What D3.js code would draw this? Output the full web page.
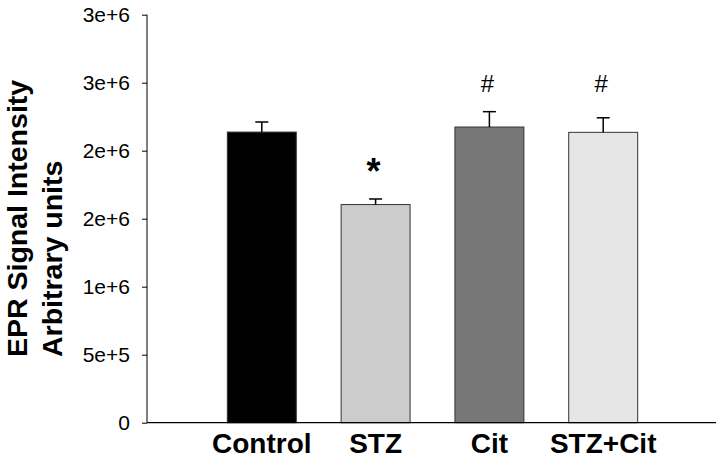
<!DOCTYPE html>
<html>
<head>
<meta charset="utf-8">
<script src="https://cdn.jsdelivr.net/npm/d3@7"></script>
<style>
  html, body { margin: 0; padding: 0; background: #fff; }
  svg { display: block; }
</style>
</head>
<body>
<script>
const categories = ["Control", "STZ", "Cit", "STZ+Cit"];
const means = [2137000, 1604000, 2174000, 2135000];
const errors = [74000, 41000, 113000, 107000];
const markers = ["", "*", "#", "#"];
const barColors = ["#000000", "#cccccc", "#777777", "#e6e6e6"];
const tickValues = [0, 500000, 1000000, 1500000, 2000000, 2500000, 3000000];
const tickLabels = ["0", "5e+5", "1e+6", "2e+6", "2e+6", "3e+6", "3e+6"];
const yLabelLines = ["EPR Signal Intensity", "Arbitrary units"];

const W = 723, H = 471;
const svg = d3.select("body").append("svg").attr("width", W).attr("height", H);
const font = "'Liberation Sans', Arial, sans-serif";

const x = d3.scaleBand().domain(categories).range([148, 717]).paddingInner(0.394).paddingOuter(0.697);
const y = d3.scaleLinear().domain([0, 3000000]).range([422.7, 14.7]);

// bars
svg.append("g").selectAll("rect").data(categories).join("rect")
  .attr("x", d => x(d))
  .attr("y", (d, i) => y(means[i]))
  .attr("width", x.bandwidth())
  .attr("height", (d, i) => y(0) - y(means[i]))
  .attr("fill", (d, i) => barColors[i])
  .attr("stroke", "#333")
  .attr("stroke-width", 1);

// error bars
const eb = svg.append("g").attr("stroke", "#000").attr("stroke-width", 1.5);
categories.forEach((c, i) => {
  const cx = x(c) + x.bandwidth() / 2;
  eb.append("line").attr("x1", cx).attr("x2", cx).attr("y1", y(means[i])).attr("y2", y(means[i] + errors[i]));
  eb.append("line").attr("x1", cx - 6.5).attr("x2", cx + 6.5).attr("y1", y(means[i] + errors[i])).attr("y2", y(means[i] + errors[i]));
});

// significance markers
categories.forEach((c, i) => {
  if (!markers[i]) return;
  const cx = x(c) + x.bandwidth() / 2;
  if (markers[i] === "*") {
    svg.append("text").attr("x", cx - 2).attr("y", 184)
      .attr("text-anchor", "middle").attr("font-family", font).attr("font-weight", "bold")
      .attr("font-size", 36).text("*");
  } else {
    svg.append("text").attr("x", cx - 2).attr("y", 92)
      .attr("text-anchor", "middle").attr("font-family", font)
      .attr("font-size", 24).text(markers[i]);
  }
});

// y axis
const yAxis = d3.axisLeft(y).tickValues(tickValues).tickSize(5).tickPadding(12)
  .tickFormat((d, i) => tickLabels[i]);
const gy = svg.append("g").attr("transform", "translate(147,0)").call(yAxis);
gy.select(".domain").attr("d", `M0,${y(3000000)}V${y(0)}`).attr("stroke", "#000");
gy.selectAll(".tick line").attr("stroke", "#000");
gy.selectAll(".tick text").attr("font-family", font).attr("font-size", 21).attr("fill", "#000");

// x axis line
svg.append("line").attr("x1", 147).attr("x2", 716).attr("y1", y(0)).attr("y2", y(0))
  .attr("stroke", "#000").attr("stroke-width", 1.2);

// x labels
svg.append("g").selectAll("text").data(categories).join("text")
  .attr("x", d => x(d) + x.bandwidth() / 2)
  .attr("y", 453)
  .attr("text-anchor", "middle")
  .attr("font-family", font).attr("font-weight", "bold").attr("font-size", 28)
  .attr("fill", "#000")
  .text(d => d);

// y label
const yl = svg.append("g").attr("transform", "translate(0,357) rotate(-90)");
yLabelLines.forEach((t, i) => {
  yl.append("text").attr("x", 0).attr("y", 27 + i * 35)
    .attr("text-anchor", "start")
    .attr("font-family", font).attr("font-weight", "bold").attr("font-size", 28.5)
    .attr("fill", "#000").text(t);
});
</script>
</body>
</html>
